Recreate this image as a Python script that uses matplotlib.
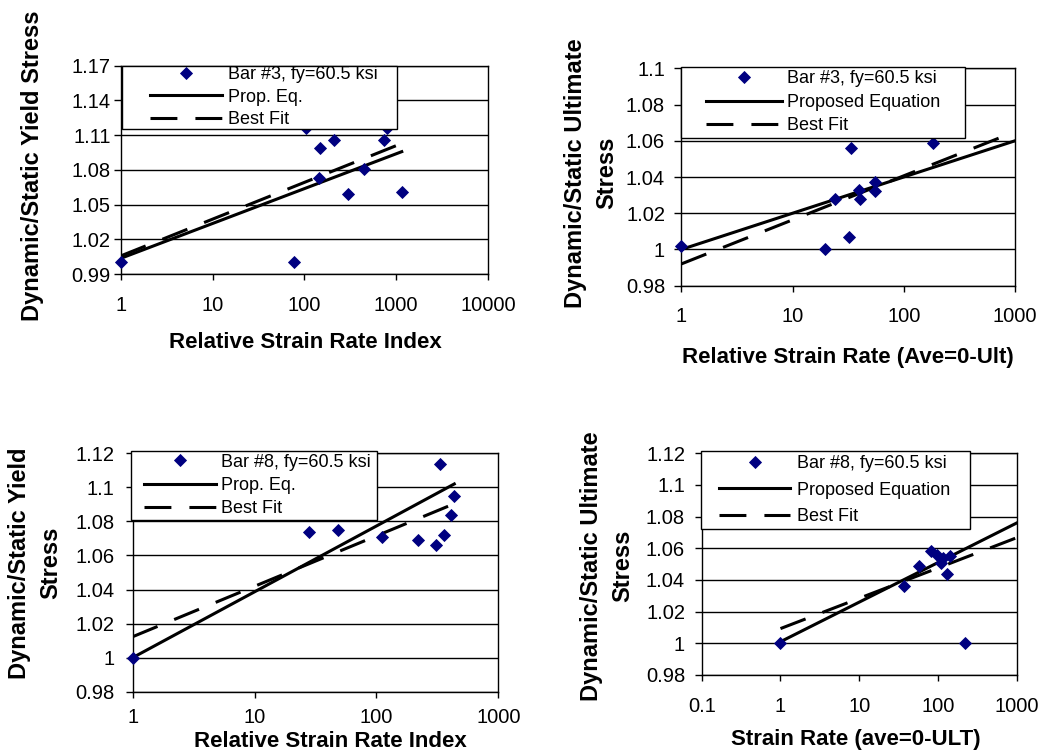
import numpy as np
import matplotlib
matplotlib.use("Agg")
import matplotlib.pyplot as plt
from matplotlib.legend_handler import HandlerLine2D
from matplotlib.ticker import NullLocator

plt.rcParams['font.family'] = ['Liberation Sans', 'DejaVu Sans']

NAVY = '#000080'

# ---------------- Bar #3, yield stress ----------------
b3y_rate = [1, 77, 103, 143, 147, 210, 298, 449, 728, 798, 1152]
b3y_ratio = [1.000, 1.000, 1.116, 1.073, 1.099, 1.106, 1.059, 1.081, 1.106, 1.116, 1.061]
b3y_prop_rate = [1, 1150]
b3y_prop = [1.0035, 1.0957]
b3y_fit_rate = [1, 1000]
b3y_fit = [1.0056, 1.1009]
b3y_yticks = [0.99, 1.02, 1.05, 1.08, 1.11, 1.14, 1.17]
b3y_yticklabels = ['0.99', '1.02', '1.05', '1.08', '1.11', '1.14', '1.17']
b3y_xticks = [1, 10, 100, 1000, 10000]
b3y_xticklabels = ['1', '10', '100', '1000', '10000']

# ---------------- Bar #3, ultimate stress ----------------
b3u_rate = [1, 19.7, 24.1, 32.4, 33.3, 39.6, 40.4, 55.5, 55.5, 184]
b3u_ratio = [1.002, 1.000, 1.028, 1.007, 1.056, 1.033, 1.028, 1.037, 1.032, 1.059]
b3u_prop_rate = [1, 1000]
b3u_prop = [1.000, 1.060]
b3u_fit_rate = [1, 1000]
b3u_fit = [0.992, 1.065]
b3u_yticks = [0.98, 1.00, 1.02, 1.04, 1.06, 1.08, 1.10]
b3u_yticklabels = ['0.98', '1', '1.02', '1.04', '1.06', '1.08', '1.1']
b3u_xticks = [1, 10, 100, 1000]
b3u_xticklabels = ['1', '10', '100', '1000']

# ---------------- Bar #8, yield stress ----------------
b8y_rate = [1, 27.8, 48.7, 112, 220, 308, 332, 360, 406, 435]
b8y_ratio = [1.000, 1.074, 1.075, 1.071, 1.069, 1.066, 1.114, 1.072, 1.084, 1.095]
b8y_prop_rate = [1, 435]
b8y_prop = [1.000, 1.102]
b8y_fit_rate = [1, 390]
b8y_fit = [1.0123, 1.089]
b8y_yticks = [0.98, 1.00, 1.02, 1.04, 1.06, 1.08, 1.10, 1.12]
b8y_yticklabels = ['0.98', '1', '1.02', '1.04', '1.06', '1.08', '1.1', '1.12']
b8y_xticks = [1, 10, 100, 1000]
b8y_xticklabels = ['1', '10', '100', '1000']

# ---------------- Bar #8, ultimate stress ----------------
b8u_rate = [1, 36.8, 58.2, 81.9, 96.7, 108.6, 115, 132, 143, 221]
b8u_ratio = [1.000, 1.036, 1.049, 1.058, 1.056, 1.051, 1.054, 1.044, 1.055, 1.000]
b8u_prop_rate = [1, 1000]
b8u_prop = [1.001, 1.076]
b8u_fit_rate = [1, 1000]
b8u_fit = [1.0093, 1.0667]
b8u_yticks = [0.98, 1.00, 1.02, 1.04, 1.06, 1.08, 1.10, 1.12]
b8u_yticklabels = ['0.98', '1', '1.02', '1.04', '1.06', '1.08', '1.1', '1.12']
b8u_xticks = [0.1, 1, 10, 100, 1000]
b8u_xticklabels = ['0.1', '1', '10', '100', '1000']


class InsetLineHandler(HandlerLine2D):
    """Legend line handle that starts a little way into the handle box."""

    def __init__(self, inset=0.0, **kw):
        super().__init__(**kw)
        self.inset = inset

    def get_xdata(self, legend, xdescent, ydescent, width, height, fontsize):
        x0 = -xdescent + self.inset * fontsize
        x1 = -xdescent + width
        return np.array([x0, x1]), np.array([(x0 + x1) / 2.0])


panels = [
    dict(rect=[0.1157, 0.6366, 0.3522, 0.2763],
         rate=b3y_rate, ratio=b3y_ratio,
         prop_rate=b3y_prop_rate, prop=b3y_prop,
         fit_rate=b3y_fit_rate, fit=b3y_fit,
         xlim=(1, 10000), ylim=(0.99, 1.17),
         xticks=b3y_xticks, xticklabels=b3y_xticklabels,
         yticks=b3y_yticks, yticklabels=b3y_yticklabels,
         series='Bar #3, fy=60.5 ksi', prop_label='Prop. Eq.',
         ylabel='Dynamic/Static Yield Stress', ylabel_pos=(0.0316, 0.7798),
         xlabel='Relative Strain Rate Index', xlabel_pos=(0.2924, 0.5464),
         ypad=2.0, xpad=11.0,
         leg_box=(0.004, 1.0, 0.749), bp=0.03, ls=0.3,
         hl=5.5, inset=1.5, htp=0.33),
    dict(rect=[0.6532, 0.6211, 0.3200, 0.2883],
         rate=b3u_rate, ratio=b3u_ratio,
         prop_rate=b3u_prop_rate, prop=b3u_prop,
         fit_rate=b3u_fit_rate, fit=b3u_fit,
         xlim=(1, 1000), ylim=(0.98, 1.10),
         xticks=b3u_xticks, xticklabels=b3u_xticklabels,
         yticks=b3u_yticks, yticklabels=b3u_yticklabels,
         series='Bar #3, fy=60.5 ksi', prop_label='Proposed Equation',
         ylabel='Dynamic/Static Ultimate\nStress', ylabel_pos=(0.5666, 0.7706),
         xlabel='Relative Strain Rate (Ave=0-Ult)', xlabel_pos=(0.8126, 0.5252),
         ypad=6.7, xpad=11.0,
         leg_box=(0.0, 1.007, 0.850), bp=0.2, ls=0.36,
         hl=5.39, inset=1.15, htp=0.28),
    dict(rect=[0.1272, 0.0826, 0.3506, 0.3162],
         rate=b8y_rate, ratio=b8y_ratio,
         prop_rate=b8y_prop_rate, prop=b8y_prop,
         fit_rate=b8y_fit_rate, fit=b8y_fit,
         xlim=(1, 1000), ylim=(0.98, 1.12),
         xticks=b8y_xticks, xticklabels=b8y_xticklabels,
         yticks=b8y_yticks, yticklabels=b8y_yticklabels,
         series='Bar #8, fy=60.5 ksi', prop_label='Prop. Eq.',
         ylabel='Dynamic/Static Yield\nStress', ylabel_pos=(0.0340, 0.2533),
         xlabel='Relative Strain Rate Index', xlabel_pos=(0.3164, 0.0170),
         ypad=8.0, xpad=7.5,
         leg_box=(-0.005, 1.01, 0.673), bp=0.16, ls=0.35,
         hl=4.58, inset=0.56, htp=0.28),
    dict(rect=[0.6728, 0.1048, 0.3020, 0.2940],
         rate=b8u_rate, ratio=b8u_ratio,
         prop_rate=b8u_prop_rate, prop=b8u_prop,
         fit_rate=b8u_fit_rate, fit=b8u_fit,
         xlim=(0.1, 1000), ylim=(0.98, 1.12),
         xticks=b8u_xticks, xticklabels=b8u_xticklabels,
         yticks=b8u_yticks, yticklabels=b8u_yticklabels,
         series='Bar #8, fy=60.5 ksi', prop_label='Proposed Equation',
         ylabel='Dynamic/Static Ultimate\nStress', ylabel_pos=(0.5823, 0.2493),
         xlabel='Strain Rate (ave=0-ULT)', xlabel_pos=(0.8205, 0.0186),
         ypad=7.0, xpad=11.0,
         leg_box=(-0.003, 1.01, 0.854), bp=0.23, ls=0.52,
         hl=4.71, inset=0.78, htp=0.37),
]

fig = plt.figure(figsize=(10.43, 7.54), dpi=100)
fig.patch.set_facecolor('white')

LW = 2.2
DASH = (0, (8.8, 5.9))

for p in panels:
    ax = fig.add_axes(p['rect'])
    ax.set_xscale('log')
    ax.set_xlim(*p['xlim'])
    ax.set_ylim(*p['ylim'])

    pts, = ax.plot(p['rate'], p['ratio'], ls='none', marker='D', ms=6.6,
                   color=NAVY, mec=NAVY, mew=0.6, clip_on=False, zorder=4,
                   label=p['series'])
    prop, = ax.plot(p['prop_rate'], p['prop'], color='black', lw=LW,
                    zorder=3, label=p['prop_label'])
    fit, = ax.plot(p['fit_rate'], p['fit'], color='black', lw=LW, ls=DASH,
                   zorder=3, label='Best Fit')

    # axes frame, grid and ticks
    for s in ax.spines.values():
        s.set_linewidth(1.0)
        s.set_color('black')
    ax.set_axisbelow(True)
    ax.yaxis.grid(True, color='black', lw=1.0)
    ax.set_xticks(p['xticks'])
    ax.set_xticklabels(p['xticklabels'])
    ax.xaxis.set_minor_locator(NullLocator())
    ax.set_yticks(p['yticks'])
    ax.set_yticklabels(p['yticklabels'])
    ax.tick_params(axis='x', direction='out', length=4.5, width=1.0,
                   pad=p['xpad'], labelsize=14.5, top=False)
    ax.tick_params(axis='y', direction='out', length=5, width=1.0,
                   pad=p['ypad'], labelsize=14.5, right=False)

    # axis titles
    ax.set_xlabel(p['xlabel'], fontsize=16, fontweight='bold')
    ax.xaxis.label.set_va('center')
    ax.xaxis.set_label_coords(*p['xlabel_pos'], transform=fig.transFigure)
    ax.set_ylabel(p['ylabel'], fontsize=17, fontweight='bold',
                  linespacing=1.45, multialignment='center')
    ax.yaxis.label.set_va('center')
    ax.yaxis.set_label_coords(*p['ylabel_pos'], transform=fig.transFigure)

    # legend
    lx, ltop, lw_ = p['leg_box']
    handler = InsetLineHandler(inset=p['inset'])
    leg = ax.legend(handles=[pts, prop, fit], loc='upper left',
                    bbox_to_anchor=(lx, 0.0, lw_, ltop), mode='expand',
                    borderaxespad=0.0, fontsize=13, numpoints=1,
                    handlelength=p['hl'], handletextpad=p['htp'],
                    labelspacing=p['ls'], borderpad=p['bp'],
                    frameon=True, fancybox=False, framealpha=1.0,
                    edgecolor='black', facecolor='white',
                    handler_map={pts: handler, prop: handler, fit: handler})
    leg.get_frame().set_linewidth(1.0)
    leg.set_zorder(6)

fig.savefig('out.png', dpi=100, facecolor='white')
